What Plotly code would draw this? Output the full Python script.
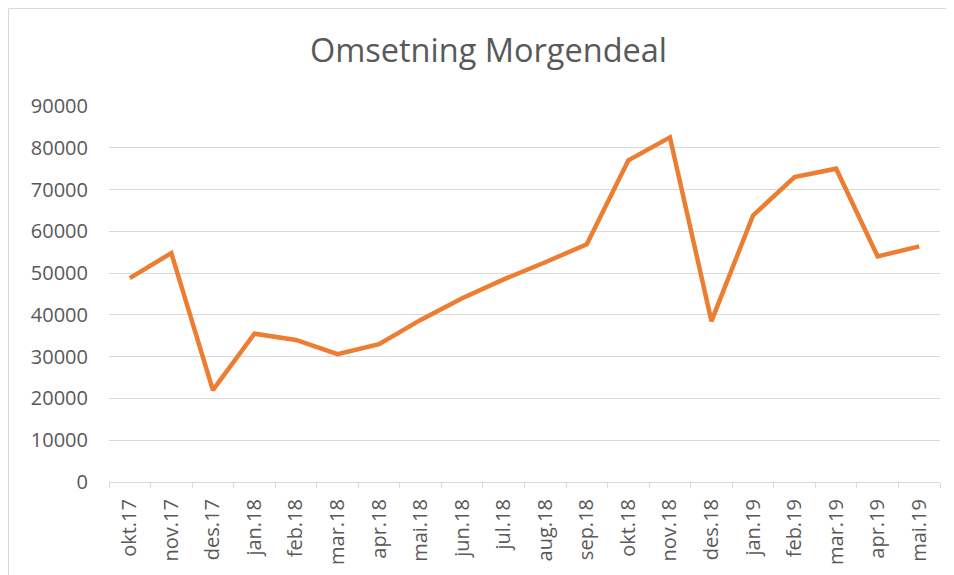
import plotly.graph_objects as go

months = ["okt.17", "nov.17", "des.17", "jan.18", "feb.18", "mar.18", "apr.18",
          "mai.18", "jun.18", "jul.18", "aug.18", "sep.18", "okt.18", "nov.18",
          "des.18", "jan.19", "feb.19", "mar.19", "apr.19", "mai.19"]
omsetning = [48800, 54800, 22000, 35500, 34000, 30600, 33000,
             38800, 44000, 48500, 52600, 56900, 77000, 82500,
             38500, 63800, 73000, 75000, 54000, 56400]
y_ticks = [0, 10000, 20000, 30000, 40000, 50000, 60000, 70000, 80000, 90000]
y_labels = [str(v) for v in y_ticks]

OFF = 8  # page body margin
W, H = 954 - OFF, 575 - OFF
L, R, T, B = 109 - OFF, 14, 106 - OFF, 93
pw, ph = W - L - R, H - T - B

fig = go.Figure()
fig.add_trace(go.Scatter(
    x=months, y=omsetning, mode="lines",
    line=dict(color="#ED7D31", width=4.5),
    showlegend=False,
))

fig.update_layout(
    width=W, height=H,
    margin=dict(l=L, r=R, t=T, b=B, autoexpand=False),
    paper_bgcolor="white", plot_bgcolor="white",
    font=dict(family="Open Sans", color="#595959", size=20),
    title=dict(text="Omsetning Morgendeal", x=(488.5 - OFF) / W, xanchor="center",
               xref="container", y=1 - 42.5 / H, yref="container", yanchor="middle",
               font=dict(family="Open Sans", size=32.5, color="#595959")),
    xaxis=dict(
        type="category", tickangle=-90, showgrid=False, automargin=False,
        showline=True, linecolor="#d9d9d9", linewidth=1,
        ticks="outside", tickson="boundaries", ticklen=5, tickcolor="#d9d9d9",
        tickfont=dict(size=20, color="#595959"), ticklabelstandoff=8,
        range=[-0.5, len(months) - 0.5], fixedrange=True,
    ),
    yaxis=dict(
        range=[0, 90000], tickvals=y_ticks, ticktext=y_labels, showgrid=True,
        gridcolor="#d9d9d9", gridwidth=1, zeroline=False, showline=False,
        automargin=False,
        tickfont=dict(size=20, color="#595959"), ticks="", ticklabelstandoff=20,
        fixedrange=True,
    ),
    shapes=[
        dict(type="rect", xref="paper", yref="paper",
             x0=(0.5 - L) / pw, x1=(W + 10 - L) / pw,
             y0=-(B + 10) / ph, y1=1 + (T - 0.5) / ph,
             line=dict(color="#d9d9d9", width=1), fillcolor="rgba(0,0,0,0)",
             layer="below"),
    ],
)

fig.write_html("out.html")
